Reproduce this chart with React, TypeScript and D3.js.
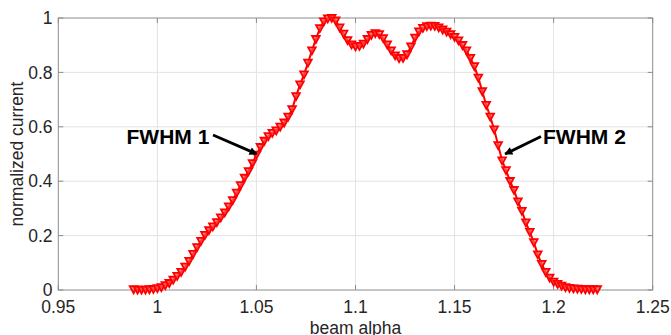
import React from "react";
import * as d3 from "d3";

const alpha = [
  0.988, 0.990, 0.992, 0.994, 0.996, 0.998, 1.000, 1.002, 1.004, 1.006, 1.008, 1.010,
  1.012, 1.014, 1.016, 1.018, 1.020, 1.022, 1.024, 1.026, 1.028, 1.030, 1.032, 1.034,
  1.036, 1.038, 1.040, 1.042, 1.044, 1.046, 1.048, 1.050, 1.052, 1.054, 1.056, 1.058,
  1.060, 1.062, 1.064, 1.066, 1.068, 1.070, 1.072, 1.074, 1.076, 1.078, 1.080, 1.082,
  1.084, 1.086, 1.088, 1.090, 1.092, 1.094, 1.096, 1.098, 1.100, 1.102, 1.104, 1.106,
  1.108, 1.110, 1.112, 1.114, 1.116, 1.118, 1.120, 1.122, 1.124, 1.126, 1.128, 1.130,
  1.132, 1.134, 1.136, 1.138, 1.140, 1.142, 1.144, 1.146, 1.148, 1.150, 1.152, 1.154,
  1.156, 1.158, 1.160, 1.162, 1.164, 1.166, 1.168, 1.170, 1.172, 1.174, 1.176, 1.178,
  1.180, 1.182, 1.184, 1.186, 1.188, 1.190, 1.192, 1.194, 1.196, 1.198, 1.200, 1.202,
  1.204, 1.206, 1.208, 1.210, 1.212, 1.214, 1.216, 1.218, 1.220, 1.222,
];

const current = [
  0.002, 0.001, 0.001, 0.001, 0.002, 0.003, 0.006, 0.010, 0.017, 0.025, 0.037, 0.051,
  0.066, 0.085, 0.106, 0.132, 0.157, 0.180, 0.202, 0.219, 0.233, 0.249, 0.266, 0.285,
  0.307, 0.330, 0.357, 0.385, 0.412, 0.436, 0.466, 0.497, 0.525, 0.548, 0.565, 0.577,
  0.586, 0.600, 0.615, 0.637, 0.664, 0.712, 0.755, 0.792, 0.835, 0.880, 0.922, 0.962,
  0.987, 0.998, 1.000, 0.990, 0.965, 0.942, 0.918, 0.902, 0.895, 0.897, 0.905, 0.922,
  0.937, 0.944, 0.940, 0.925, 0.902, 0.880, 0.862, 0.852, 0.853, 0.866, 0.895, 0.927,
  0.950, 0.963, 0.969, 0.971, 0.970, 0.965, 0.957, 0.949, 0.940, 0.930, 0.917, 0.900,
  0.880, 0.853, 0.822, 0.780, 0.730, 0.680, 0.637, 0.590, 0.532, 0.476, 0.440, 0.400,
  0.367, 0.325, 0.290, 0.248, 0.213, 0.175, 0.130, 0.095, 0.066, 0.045, 0.030, 0.022,
  0.015, 0.010, 0.007, 0.005, 0.004, 0.003, 0.002, 0.002, 0.002, 0.002,
];

const xTicks = [0.95, 1, 1.05, 1.1, 1.15, 1.2, 1.25];
const xTickLabels = ["0.95", "1", "1.05", "1.1", "1.15", "1.2", "1.25"];
const yTicks = [0, 0.2, 0.4, 0.6, 0.8, 1];
const yTickLabels = ["0", "0.2", "0.4", "0.6", "0.8", "1"];

const annotations = [
  { label: "FWHM 1", tx: 126.5, ty: 143.5, from: [213, 135], to: [1.0502, 0.5] },
  { label: "FWHM 2", tx: 543, ty: 143.5, from: [541, 136.5], to: [1.1755, 0.5] },
];

const W = 671;
const H = 335;
const left = 58.3;
const right = 652.7;
const top = 18;
const bottom = 290;
const FONT = "'Liberation Sans', Arial, Helvetica, sans-serif";
const TEXT = "#262626";
const AXIS = "#8c8c8c";

export default function App() {
  const x = d3.scaleLinear().domain([0.95, 1.25]).range([left, right]);
  const y = d3.scaleLinear().domain([0, 1]).range([bottom, top]);
  const pts = alpha.map((a, i) => [a, current[i]] as [number, number]);
  const line = d3.line<[number, number]>().x((d) => x(d[0])).y((d) => y(d[1]));
  const tri = "M-3.8,-3.2 L3.8,-3.2 L0,3.8 Z";

  return (
    <svg
      width={W}
      height={H}
      style={{ position: "absolute", left: 0, top: 0, background: "#fff" }}
      fontFamily={FONT}
    >
      <defs>
        <marker id="ah" viewBox="0 0 10 10" refX="9" refY="5" markerWidth="9" markerHeight="8" orient="auto" markerUnits="userSpaceOnUse">
          <path d="M0,0 L10,5 L0,10 Z" fill="#000" />
        </marker>
      </defs>
      <rect x={0} y={0} width={W} height={H} fill="#fff" />
      {xTicks.slice(1, -1).map((t) => (
        <line key={"gx" + t} x1={x(t)} x2={x(t)} y1={top} y2={bottom} stroke="#e3e3e3" strokeWidth={1} />
      ))}
      {yTicks.slice(1, -1).map((t) => (
        <line key={"gy" + t} x1={left} x2={right} y1={y(t)} y2={y(t)} stroke="#e3e3e3" strokeWidth={1} />
      ))}
      <rect x={left} y={top} width={right - left} height={bottom - top} fill="none" stroke={AXIS} strokeWidth={1} />
      {xTicks.map((t) => (
        <g key={"tx" + t}>
          <line x1={x(t)} x2={x(t)} y1={bottom} y2={bottom - 5} stroke={AXIS} />
          <line x1={x(t)} x2={x(t)} y1={top} y2={top + 5} stroke={AXIS} />
        </g>
      ))}
      {yTicks.map((t) => (
        <g key={"ty" + t}>
          <line x1={left} x2={left + 5} y1={y(t)} y2={y(t)} stroke={AXIS} />
          <line x1={right} x2={right - 5} y1={y(t)} y2={y(t)} stroke={AXIS} />
        </g>
      ))}
      {xTicks.map((t, i) => (
        <text key={"lx" + t} x={x(t)} y={313} textAnchor="middle" fontSize={17.5} fill={TEXT}>
          {xTickLabels[i]}
        </text>
      ))}
      {yTicks.map((t, i) => (
        <text key={"ly" + t} x={52.5} y={y(t)} dy="0.35em" textAnchor="end" fontSize={17.5} fill={TEXT}>
          {yTickLabels[i]}
        </text>
      ))}
      <text
        transform={`translate(23, ${(top + bottom) / 2}) rotate(-90)`}
        textAnchor="middle"
        fontSize={17.5}
        fill={TEXT}
      >
        normalized current
      </text>
      <text x={(left + right) / 2} y={334} textAnchor="middle" fontSize={17.5} fill={TEXT}>
        beam alpha
      </text>
      <path d={line(pts) || ""} fill="none" stroke="#ff0000" strokeWidth={2} />
      {pts.map((d, i) => (
        <path
          key={"m" + i}
          d={tri}
          transform={`translate(${x(d[0])},${y(d[1])})`}
          fill="#ff6060"
          fillOpacity={0.7}
          stroke="#ff0000"
          strokeWidth={1.8}
        />
      ))}
      {annotations.map((a) => (
        <g key={a.label}>
          <text x={a.tx} y={a.ty} fontSize={21} fontWeight="bold" fill="#000">
            {a.label}
          </text>
          <line
            x1={a.from[0]}
            y1={a.from[1]}
            x2={x(a.to[0])}
            y2={y(a.to[1])}
            stroke="#000"
            strokeWidth={2.8}
            markerEnd="url(#ah)"
          />
        </g>
      ))}
    </svg>
  );
}
